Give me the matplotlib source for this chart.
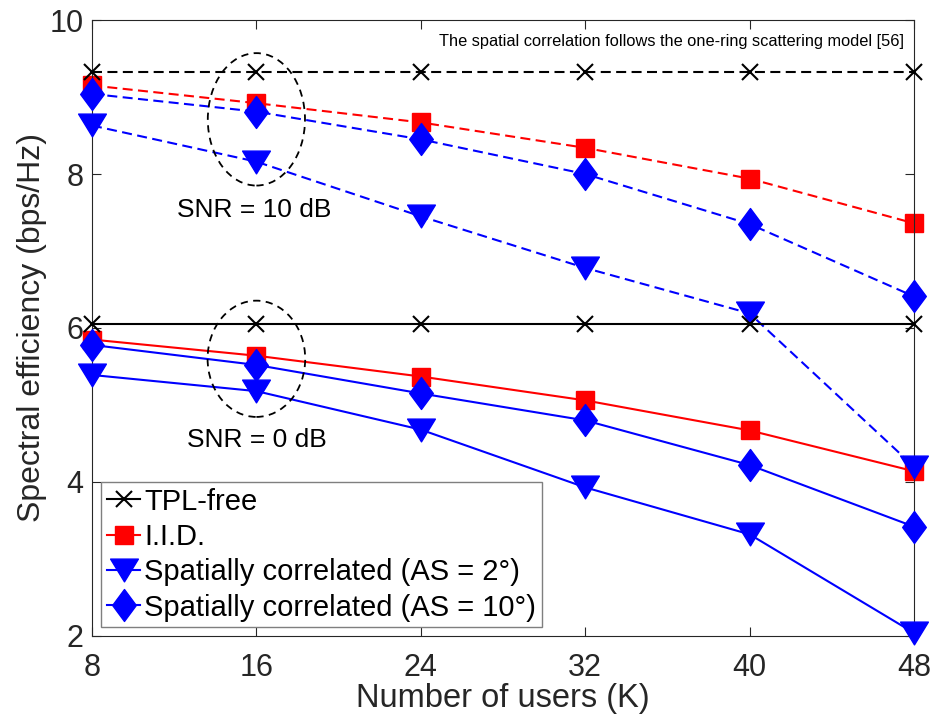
import numpy as np
import matplotlib
matplotlib.use("Agg")
import matplotlib.pyplot as plt
from matplotlib.patches import Ellipse
from matplotlib.path import Path

plt.rcParams['font.family'] = ['Liberation Sans', 'DejaVu Sans']

# Number of users
users = [8, 16, 24, 32, 40, 48]

# SNR = 10 dB (dashed)
tpl_10 = [9.32, 9.32, 9.32, 9.32, 9.32, 9.32]
iid_10 = [9.15, 8.92, 8.67, 8.34, 7.94, 7.36]
as2_10 = [8.63, 8.16, 7.45, 6.78, 6.19, 4.20]
as10_10 = [9.04, 8.81, 8.45, 8.00, 7.35, 6.41]

# SNR = 0 dB (solid)
tpl_0 = [6.05, 6.05, 6.05, 6.05, 6.05, 6.05]
iid_0 = [5.85, 5.64, 5.37, 5.06, 4.67, 4.14]
as2_0 = [5.39, 5.18, 4.68, 3.93, 3.32, 2.04]
as10_0 = [5.78, 5.52, 5.15, 4.80, 4.22, 3.42]

labels = ['TPL-free', 'I.I.D.', 'Spatially correlated (AS = 2°)',
          'Spatially correlated (AS = 10°)']

# MATLAB-like markers: tall diamond and wide down-triangle
diamond = Path([(0, 1), (0.74, 0), (0, -1), (-0.74, 0), (0, 1)],
               [Path.MOVETO, Path.LINETO, Path.LINETO, Path.LINETO, Path.CLOSEPOLY])
tri_down = Path([(-1, 0.82), (1, 0.82), (0, -0.82), (-1, 0.82)],
                [Path.MOVETO, Path.LINETO, Path.LINETO, Path.CLOSEPOLY])

fig = plt.figure(figsize=(9.35, 7.2), dpi=100)
ax = fig.add_axes([0.0984, 0.1167, 0.8791, 0.8555])

dash = (0, (4.8, 2.6))
lw = 1.5

styles = [
    dict(color='k', marker='x', ms=12, mew=1.5, zorder=5),
    dict(color='red', marker='s', ms=13, mfc='red', mec='red', zorder=2),
    dict(color='blue', marker=tri_down, ms=20, mfc='blue', mec='blue', zorder=3),
    dict(color='blue', marker=diamond, ms=23, mfc='blue', mec='blue', zorder=4),
]

handles = []
for ys, st in zip([tpl_0, iid_0, as2_0, as10_0], styles):
    h, = ax.plot(users, ys, linestyle='-', lw=lw, clip_on=False, **st)
    handles.append(h)
for ys, st in zip([tpl_10, iid_10, as2_10, as10_10], styles):
    ax.plot(users, ys, linestyle=dash, lw=lw, clip_on=False, **st)

# circles marking the two SNR groups
ax.add_patch(Ellipse((16, 8.71), 4.73, 1.72, fill=False, ls=(0, (4, 3)),
                     lw=1.3, ec='k', zorder=6))
ax.add_patch(Ellipse((16, 5.60), 4.75, 1.51, fill=False, ls=(0, (4, 3)),
                     lw=1.3, ec='k', zorder=6))
ax.text(15.9, 7.53, 'SNR = 10 dB', fontsize=19, ha='center', va='center')
ax.text(16.0, 4.55, 'SNR = 0 dB', fontsize=19, ha='center', va='center')
ax.text(47.5, 9.72, 'The spatial correlation follows the one-ring scattering model [56]',
        fontsize=11.8, ha='right', va='center')

ax.set_xlim(8, 48)
ax.set_ylim(2, 10)
ax.set_xticks(users)
ax.set_yticks([2, 4, 6, 8, 10])
ax.tick_params(direction='in', length=6.5, width=0.8, top=True, right=True,
               labelsize=22, colors='#262626', pad=6)
ax.tick_params(axis='x', pad=12)
for s in ax.spines.values():
    s.set_color('#262626')
    s.set_linewidth(0.8)
ax.set_xlabel('Number of users (K)', fontsize=23.5, color='#262626', labelpad=0)
ax.set_ylabel('Spectral efficiency (bps/Hz)', fontsize=23, color='#262626', labelpad=2)

leg = ax.legend(handles, labels, loc='lower left', bbox_to_anchor=(0.011, 0.014),
                fontsize=21, handlelength=1.15, handletextpad=0.12,
                labelspacing=0.25, borderpad=0.2, borderaxespad=0,
                fancybox=False, framealpha=1, edgecolor='#7f7f7f')
leg.get_frame().set_linewidth(1.0)
leg.set_zorder(10)

fig.savefig('out.png', dpi=100)
